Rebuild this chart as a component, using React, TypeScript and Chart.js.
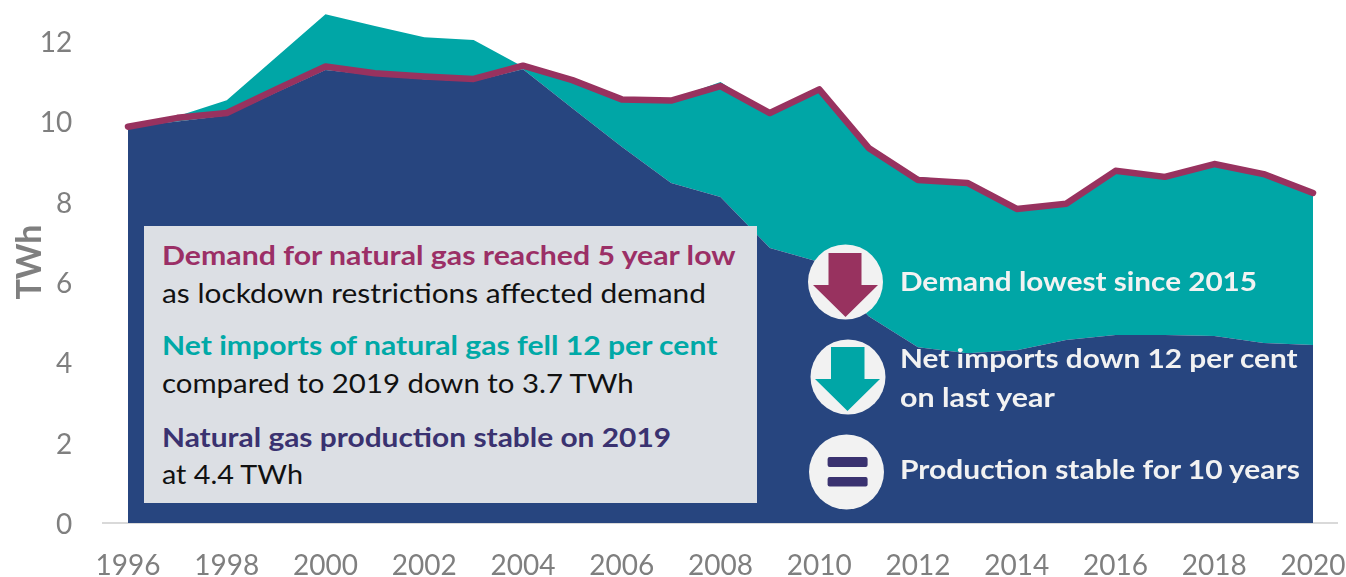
import React, { useEffect, useRef } from "react";
import { Chart, registerables } from "chart.js";

Chart.register(...registerables);

const years = ["1996","1997","1998","1999","2000","2001","2002","2003","2004","2005","2006","2007","2008","2009","2010","2011","2012","2013","2014","2015","2016","2017","2018","2019","2020"];
const production = [9.86,10.0,10.15,10.72,11.28,11.15,11.05,11.0,11.3,10.33,9.37,8.47,8.12,6.85,6.5,5.15,4.38,4.23,4.3,4.56,4.68,4.68,4.66,4.48,4.43];
const netImports = [0,0.13,0.38,0.88,1.39,1.23,1.05,1.03,0.06,0.69,1.16,2.08,2.86,3.35,4.28,4.17,4.24,4.27,3.52,3.39,4.09,3.94,4.28,4.21,3.77];
const demand = [9.87,10.09,10.21,10.8,11.37,11.2,11.12,11.06,11.39,11.03,10.55,10.52,10.88,10.21,10.8,9.34,8.54,8.47,7.82,7.95,8.77,8.62,8.94,8.69,8.22];
const noteTexts = [
  "Demand for natural gas reached 5 year low",
  "as lockdown restrictions affected demand",
  "Net imports of natural gas fell 12 per cent",
  "compared to 2019 down to 3.7 TWh",
  "Natural gas production stable on 2019",
  "at 4.4 TWh",
  "Demand lowest since 2015",
  "Net imports down 12 per cent",
  "on last year",
  "Production stable for 10 years",
];

const NAVY = "#27457f";
const TEAL = "#00a6a6";
const MAGENTA = "#98325f";
const GREY = "#7f7f7f";
const FONT = "Lato, 'Noto Sans', sans-serif";
const INK = "#111111";
const WHITE = "#f2f2f2";

const noteStyles = [
  { x: 162, y: 255, color: "#9b2f66", weight: 700, sx: 1.1 },
  { x: 162, y: 293, color: INK, weight: 400, sx: 1.086 },
  { x: 162, y: 345, color: "#00a9a7", weight: 700, sx: 1.095 },
  { x: 162, y: 383, color: INK, weight: 400, sx: 1.068 },
  { x: 162, y: 437, color: "#3a3270", weight: 700, sx: 1.087 },
  { x: 162, y: 474, color: INK, weight: 400, sx: 1.045 },
  { x: 900, y: 281, color: WHITE, weight: 700, sx: 1.079 },
  { x: 900, y: 358, color: WHITE, weight: 700, sx: 1.084 },
  { x: 900, y: 397, color: WHITE, weight: 700, sx: 1.105 },
  { x: 900, y: 469, color: WHITE, weight: 700, sx: 1.089 },
];

const noPadding = (s: any) => {
  s.paddingTop = 0;
  s.paddingBottom = 0;
  s.paddingLeft = 0;
  s.paddingRight = 0;
};

export default function App() {
  const ref = useRef<HTMLCanvasElement>(null);
  useEffect(() => {
    document.body.style.margin = "0";
    const chart = new Chart(ref.current!, {
      type: "line",
      data: {
        labels: years,
        datasets: [
          { label: "Demand", data: demand, stack: "demand", borderColor: MAGENTA, borderWidth: 6.5, pointRadius: 0, fill: false, tension: 0, borderCapStyle: "round", borderJoinStyle: "round", clip: false },
          { label: "Production", data: production, stack: "supply", borderWidth: 0, borderColor: NAVY, backgroundColor: NAVY, pointRadius: 0, fill: "origin", tension: 0 },
          { label: "Net imports", data: netImports, stack: "supply", borderWidth: 0, borderColor: TEAL, backgroundColor: TEAL, pointRadius: 0, fill: "-1", tension: 0 },
        ],
      } as any,
      options: {
        animation: false,
        responsive: false,
        layout: { autoPadding: false, padding: { top: 1, right: 8.3, left: 0, bottom: 0 } },
        plugins: { legend: { display: false }, tooltip: { enabled: false } },
        scales: {
          x: {
            offset: true,
            grid: { display: false, drawTicks: false },
            border: { color: "#d9d9d9", width: 2 },
            ticks: {
              autoSkip: false,
              maxRotation: 0,
              padding: 26,
              color: GREY,
              font: { family: FONT, size: 28 },
              callback: (_v: any, i: number) => (i % 2 === 0 ? years[i] : ""),
            },
            afterFit: (s: any) => { s.height = 54; noPadding(s); },
          },
          y: {
            stacked: true,
            min: 0,
            max: 13,
            grid: { display: false, drawTicks: false },
            border: { display: false },
            ticks: {
              stepSize: 2,
              includeBounds: false,
              padding: 31,
              labelOffset: 2,
              color: GREY,
              font: { family: FONT, size: 28 },
            },
            title: { display: true, text: "TWh", color: GREY, font: { family: FONT, size: 34, weight: "bold" }, padding: { top: 10, bottom: 0 } },
            afterFit: (s: any) => { s.width = 103.3; noPadding(s); },
          },
        },
      } as any,
    });
    return () => chart.destroy();
  }, []);

  return (
    <div style={{ position: "relative", width: 1346, height: 577, overflow: "hidden", background: "#fff" }}>
      <canvas ref={ref} width={1346} height={577} style={{ position: "absolute", left: 0, top: 0 }} />
      <div style={{ position: "absolute", left: 144, top: 226, width: 613, height: 277, background: "#dcdfe4" }} />
      <svg width={1346} height={577} style={{ position: "absolute", left: 0, top: 0 }}>
        <circle cx={845.5} cy={282} r={37.5} fill="#f2f2f2" />
        <polygon points="828.5,253 861.5,253 861.5,285 878,285 845.5,317 813,285 828.5,285" fill={MAGENTA} />
        <circle cx={848} cy={377} r={37.5} fill="#f2f2f2" />
        <polygon points="831,347 864.5,347 864.5,379 880,379 847.5,411 815,379 831,379" fill={TEAL} />
        <circle cx={846.5} cy={472} r={37.5} fill="#f2f2f2" />
        <rect x={827.6} y={457} width={40} height={10} rx={2} fill="#3a3270" />
        <rect x={827.6} y={477} width={40} height={9.5} rx={2} fill="#3a3270" />
      </svg>
      {noteTexts.map((t, i) => {
        const n = noteStyles[i];
        return (
          <div key={t} style={{ position: "absolute", left: n.x, top: n.y, transform: `translateY(-50%) scaleX(${n.sx})`, transformOrigin: "left center", color: n.color, fontFamily: FONT, fontWeight: n.weight, fontSize: 27.5, lineHeight: 1, whiteSpace: "nowrap" }}>
            {t}
          </div>
        );
      })}
    </div>
  );
}
